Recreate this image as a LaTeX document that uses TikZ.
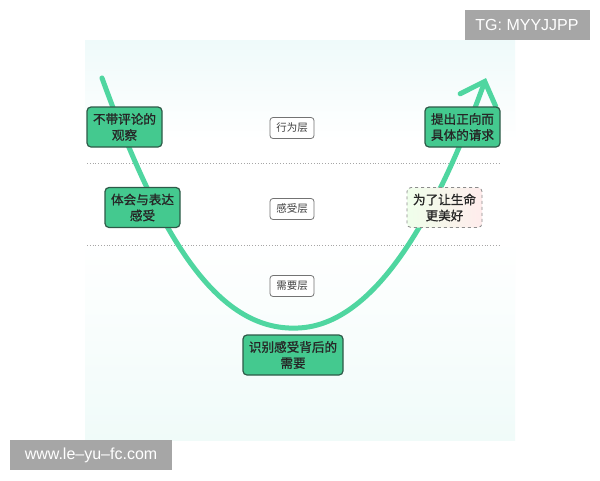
\documentclass[tikz,border=0pt]{standalone}
\usepackage{fontspec}
\setmainfont{Liberation Sans}
\newfontfamily\cjk{Noto Sans CJK SC}
\newfontfamily\cjkb[FakeBold=1]{Noto Sans CJK SC}
\usetikzlibrary{arrows.meta,shadings}
\definecolor{curvegreen}{HTML}{4FD6A0}
\definecolor{boxgreen}{HTML}{44C98F}
\definecolor{boxborder}{HTML}{2E5A48}
\definecolor{wmgray}{HTML}{A6A6A6}
\definecolor{paneltop}{HTML}{EFFAFA}
\definecolor{panelbot}{HTML}{F0FBF9}
\tikzset{
  stepnode/.style={draw=boxborder, line width=1.2pt, fill=boxgreen, rounded corners=4pt,
    minimum width=75pt, minimum height=40pt, align=center, inner sep=1pt,
    font=\cjkb\fontsize{12.6}{16}\selectfont, text=black!85},
  layerlabel/.style={draw=black!55, line width=0.8pt, fill=white, rounded corners=3pt,
    minimum width=44pt, minimum height=21pt, inner sep=2pt,
    font=\cjk\fontsize{10.5}{12}\selectfont, text=black!75},
  wmark/.style={fill=wmgray, text=white, inner sep=0pt, font=\fontsize{16}{18}\selectfont},
  divider/.style={draw=black!35, line width=0.8pt, dotted},
}
\begin{document}
\begin{tikzpicture}[x=1pt,y=-1pt]
\useasboundingbox (0,0) rectangle (600,480);
\fill[white] (0,0) rectangle (600,480);
% background panel
\shade[top color=paneltop, bottom color=white, middle color=white] (85,40) rectangle (515,240);
\shade[top color=white, bottom color=panelbot] (85,240) rectangle (515,440);
% dividers
\coordinate (d1a) at (87,163); \coordinate (d1b) at (500,163);
\coordinate (d2a) at (87,245); \coordinate (d2b) at (500,245);
\draw[divider] (d1a) -- (d1b);
\draw[divider] (d2a) -- (d2b);
% layer labels
\node[layerlabel] (l1) at (292,128) {行为层};
\node[layerlabel] (l2) at (292,209) {感受层};
\node[layerlabel] (l3) at (292,286) {需要层};
% curve
\coordinate (cs) at (102,78);
\coordinate (cb) at (298,328);
\coordinate (ce) at (486,78);
\draw[curvegreen, line width=5pt, line cap=round, -{Straight Barb[length=20pt,width=38pt,line cap=round]}]
  (cs) .. controls (158,232) and (215,332) .. (cb) .. controls (380,325) and (442,200) .. (ce);
% step nodes
\node[stepnode] (n1) at (124.5,127) {不带评论的\\观察};
\node[stepnode] (n2) at (142.5,207.5) {体会与表达\\感受};
\node[stepnode] (n3) at (462.5,127) {提出正向而\\具体的请求};
\node[stepnode, draw=black!45, line width=0.8pt, dashed, fill=none,
      left color=yellow!22!green!8!white, right color=pink!30!white] (n4) at (444.5,207.5) {为了让生命\\更美好};
\node[stepnode, minimum width=100pt] (n5) at (293,355) {识别感受背后的\\需要};
% watermarks
\node[wmark, minimum width=125pt, minimum height=30pt] (w1) at (527,25) {TG: MYYJJPP};
\node[wmark, minimum width=162pt, minimum height=30pt] (w2) at (91,455) {www.le–yu–fc.com};
\end{tikzpicture}
\end{document}
